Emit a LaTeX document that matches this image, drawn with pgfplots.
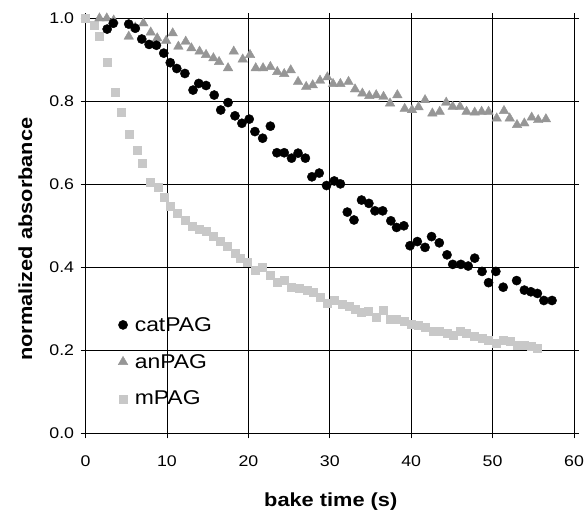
\documentclass[border=0pt]{standalone}
\usepackage{fontspec}
\setmainfont{Liberation Sans}[FakeStretch=1.15]
\usepackage{pgfplots}
\pgfplotsset{compat=1.18}
\definecolor{anGray}{RGB}{150,150,150}
\definecolor{mGray}{RGB}{200,200,200}
\begin{document}
\begin{tikzpicture}[x=1bp,y=1bp]
\useasboundingbox (-85.6,-76.7) rectangle (500.4,433.3);
\begin{axis}[
  at={(0,0)}, anchor=south west,
  width=488.4bp, height=415bp, scale only axis,
  xmin=0, xmax=60, ymin=0, ymax=1,
  xtick={0,10,...,60}, ytick={0,0.2,0.4,0.6,0.8,1.0},
  grid=major, major grid style={black, line width=0.7bp},
  axis line style={black, line width=0.9bp},
  tick align=outside, major tick length=5bp, tick style={black, line width=0.7bp},
  /pgf/number format/assume math mode=true,
  yticklabel style={/pgf/number format/fixed, /pgf/number format/fixed zerofill,
    /pgf/number format/precision=1, font=\fontsize{15.5}{18}\selectfont, xshift=-3bp},
  xticklabel style={font=\fontsize{15.5}{18}\selectfont, yshift=-14bp},
  xlabel={bake time (s)}, ylabel={normalized absorbance},
  label style={font=\bfseries\fontsize{19}{22}\selectfont},
  xlabel style={at={(axis description cs:0.502,-0.1752)}, anchor=base},
  ylabel style={at={(axis description cs:-0.1097,0.468)}, anchor=base},
  reverse legend,
  legend cell align=left,
  legend style={draw=none, fill=none, at={(axis description cs:0.0665,0.285)},
    anchor=north west, font=\fontsize{20}{24}\selectfont, row sep=17.5bp,
    column sep=5bp, inner sep=0pt},
]
% mPAG
\addplot[only marks, mark=square*, mark size=4bp, color=mGray] coordinates {
(0,1.0) (1.0,0.983) (1.7,0.958) (2.63,0.895) (3.65,0.821) (4.4,0.773) (5.3,0.721)
(6.3,0.681) (7.0,0.652) (7.9,0.606) (8.9,0.593) (9.6,0.570) (10.4,0.547) (11.3,0.530)
(12.2,0.514) (13.15,0.500) (14.0,0.492) (14.8,0.486) (15.7,0.475) (16.5,0.462)
(17.4,0.450) (18.35,0.434) (19.05,0.422) (19.9,0.413) (20.8,0.392) (21.75,0.400)
(22.7,0.381) (23.5,0.363) (24.4,0.368) (25.3,0.353) (26.25,0.349) (27.2,0.344)
(27.9,0.339) (28.8,0.329) (29.7,0.313) (30.6,0.320) (31.5,0.312) (32.4,0.307)
(33.1,0.300) (33.9,0.291) (34.7,0.295) (35.7,0.280) (36.5,0.297) (37.4,0.275)
(38.2,0.275) (39.1,0.269) (40.0,0.264) (40.9,0.261) (41.7,0.255) (42.7,0.245)
(43.5,0.245) (44.4,0.241) (45.2,0.237) (46.0,0.245) (46.8,0.241) (47.7,0.233)
(48.7,0.229) (49.5,0.225) (50.4,0.217) (51.3,0.225) (52.1,0.221) (53.0,0.213)
(53.9,0.213) (54.7,0.209) (55.5,0.205)
};
\addlegendentry{mPAG}
% anPAG
\addplot[only marks, mark=triangle*, mark size=5.5bp, color=anGray] coordinates {
(1.7,1.0) (2.6,1.0) (3.45,0.995) (5.3,0.956) (6.1,0.978) (7.1,0.988) (8.0,0.966)
(8.8,0.952) (9.9,0.946) (10.7,0.964) (11.4,0.932) (12.3,0.944) (13.0,0.928)
(14.0,0.920) (14.8,0.912) (15.7,0.904) (16.4,0.895) (17.5,0.880) (18.2,0.920)
(19.3,0.901) (20.2,0.912) (20.9,0.880) (21.8,0.880) (22.7,0.883) (23.55,0.871)
(24.4,0.866) (25.2,0.875) (26.1,0.847) (27.1,0.835) (27.9,0.839) (28.8,0.850)
(29.7,0.858) (30.4,0.842) (31.3,0.842) (32.3,0.847) (33.1,0.829) (34.0,0.819)
(34.85,0.813) (35.7,0.815) (36.6,0.811) (37.4,0.795) (38.3,0.815) (39.2,0.782)
(40.1,0.779) (40.9,0.786) (41.7,0.803) (42.6,0.771) (43.5,0.775) (44.3,0.797)
(45.1,0.787) (46.0,0.787) (46.8,0.775) (47.8,0.773) (48.65,0.775) (49.5,0.775)
(50.5,0.759) (51.4,0.777) (52.1,0.759) (53.0,0.743) (53.9,0.747) (54.8,0.761)
(55.6,0.755) (56.55,0.757)
};
\addlegendentry{anPAG}
% catPAG
\addplot[only marks, mark=*, mark size=4.6bp, color=black] coordinates {
(2.65,0.974) (3.4,0.988) (4.4,1.002) (5.3,0.986) (6.1,0.976) (6.9,0.950) (7.8,0.937)
(8.7,0.935) (9.6,0.916) (10.4,0.893) (11.2,0.879) (12.2,0.867) (13.2,0.827)
(13.9,0.843) (14.8,0.838) (15.8,0.815) (16.6,0.779) (17.5,0.797) (18.35,0.765)
(19.2,0.747) (20.1,0.757) (20.8,0.727) (21.75,0.711) (22.7,0.740) (23.5,0.676)
(24.4,0.676) (25.3,0.663) (26.1,0.675) (27.0,0.663) (27.8,0.618) (28.7,0.627)
(29.6,0.597) (30.55,0.608) (31.3,0.601) (32.15,0.533) (32.97,0.514) (33.9,0.562)
(34.8,0.554) (35.55,0.536) (36.5,0.536) (37.5,0.512) (38.2,0.496) (39.1,0.500)
(39.85,0.452) (40.75,0.462) (41.7,0.448) (42.5,0.474) (43.45,0.459) (44.4,0.430)
(45.1,0.407) (46.1,0.407) (47.0,0.403) (47.8,0.422) (48.7,0.390) (49.5,0.363)
(50.4,0.390) (51.3,0.352) (52.95,0.368) (53.9,0.345) (54.7,0.341) (55.5,0.337)
(56.3,0.320) (57.3,0.320)
};
\addlegendentry{catPAG}
\end{axis}
\end{tikzpicture}
\end{document}
